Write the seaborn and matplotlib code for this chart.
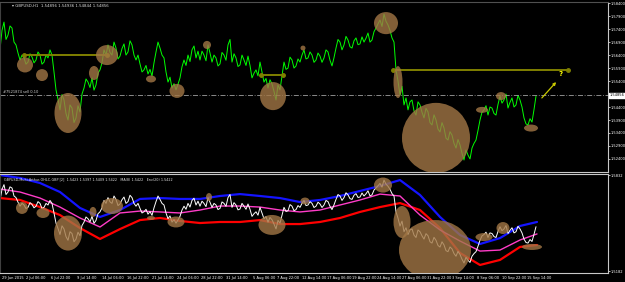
import numpy as np
import pandas as pd
import matplotlib
matplotlib.use("Agg")
import matplotlib.pyplot as plt
import seaborn as sns
from matplotlib.patches import Ellipse

# ---------------- data (hourly-ish closes, 2 px per step) ----------------
close = [1.5660, 1.5735, 1.5767, 1.5700, 1.5717, 1.5752, 1.5744, 1.5690, 1.5679, 1.5648,
         1.5621, 1.5640, 1.5629, 1.5605, 1.5613, 1.5645, 1.5633, 1.5610, 1.5621, 1.5652,
         1.5640, 1.5605, 1.5613, 1.5640, 1.5629, 1.5660, 1.5640, 1.5575, 1.5506, 1.5470,
         1.5429, 1.5488, 1.5467, 1.5415, 1.5390, 1.5448, 1.5436, 1.5380, 1.5398, 1.5445,
         1.5421, 1.5490, 1.5513, 1.5548, 1.5536, 1.5515, 1.5552, 1.5505, 1.5525, 1.5570,
         1.5583, 1.5610, 1.5660, 1.5640, 1.5679, 1.5650, 1.5640, 1.5690, 1.5667, 1.5625,
         1.5636, 1.5665, 1.5683, 1.5640, 1.5652, 1.5695, 1.5679, 1.5640, 1.5621, 1.5640,
         1.5606, 1.5575, 1.5583, 1.5600, 1.5567, 1.5585, 1.5559, 1.5610, 1.5652, 1.5690,
         1.5667, 1.5640, 1.5629, 1.5575, 1.5536, 1.5555, 1.5513, 1.5530, 1.5506, 1.5528,
         1.5552, 1.5595, 1.5621, 1.5600, 1.5640, 1.5615, 1.5660, 1.5675, 1.5629, 1.5655,
         1.5621, 1.5655, 1.5640, 1.5618, 1.5679, 1.5648, 1.5613, 1.5640, 1.5629, 1.5598,
         1.5606, 1.5650, 1.5640, 1.5620, 1.5679, 1.5700, 1.5613, 1.5645, 1.5629, 1.5596,
         1.5602, 1.5640, 1.5621, 1.5600, 1.5636, 1.5600, 1.5552, 1.5570, 1.5583, 1.5560,
         1.5613, 1.5575, 1.5536, 1.5550, 1.5513, 1.5545, 1.5529, 1.5500, 1.5467, 1.5525,
         1.5506, 1.5560, 1.5613, 1.5585, 1.5590, 1.5632, 1.5621, 1.5590, 1.5598, 1.5625,
         1.5613, 1.5640, 1.5660, 1.5625, 1.5629, 1.5652, 1.5640, 1.5612, 1.5621, 1.5648,
         1.5636, 1.5612, 1.5629, 1.5660, 1.5652, 1.5620, 1.5598, 1.5630, 1.5667, 1.5700,
         1.5690, 1.5660, 1.5679, 1.5712, 1.5698, 1.5672, 1.5667, 1.5695, 1.5706, 1.5680,
         1.5683, 1.5710, 1.5690, 1.5705, 1.5725, 1.5690, 1.5698, 1.5730, 1.5744, 1.5760,
         1.5775, 1.5750, 1.5798, 1.5770, 1.5756, 1.5735, 1.5706, 1.5690, 1.5583, 1.5540,
         1.5486, 1.5520, 1.5448, 1.5475, 1.5429, 1.5460, 1.5467, 1.5425, 1.5409, 1.5460,
         1.5448, 1.5420, 1.5398, 1.5435, 1.5421, 1.5380, 1.5371, 1.5410, 1.5390, 1.5355,
         1.5344, 1.5380, 1.5359, 1.5320, 1.5313, 1.5345, 1.5332, 1.5300, 1.5282, 1.5315,
         1.5294, 1.5262, 1.5236, 1.5275, 1.5255, 1.5240, 1.5282, 1.5300, 1.5313, 1.5350,
         1.5390, 1.5420, 1.5429, 1.5445, 1.5409, 1.5440, 1.5436, 1.5415, 1.5409, 1.5450,
         1.5482, 1.5455, 1.5467, 1.5490, 1.5436, 1.5458, 1.5475, 1.5440, 1.5448, 1.5485,
         1.5467, 1.5440, 1.5398, 1.5375, 1.5371, 1.5395, 1.5382, 1.5430, 1.5482]

band_bars = [0, 10, 20, 30, 40, 50, 60, 70, 80, 90, 100, 110, 120, 130, 140, 150, 160, 170, 180,
             190, 200, 210, 220, 230, 240, 250, 260, 268.5]
env_upper = [1.5832, 1.5812, 1.5778, 1.5717, 1.5609, 1.5548, 1.5595, 1.5670, 1.5676, 1.5670,
             1.5670, 1.5690, 1.5703, 1.5690, 1.5676, 1.5649, 1.5663, 1.5690, 1.5724, 1.5758,
             1.5798, 1.5697, 1.5548, 1.5426, 1.5365, 1.5405, 1.5487, 1.5514]
ma_mid = [1.5737, 1.5717, 1.5676, 1.5615, 1.5541, 1.5480, 1.5575, 1.5588, 1.5582, 1.5575,
          1.5595, 1.5622, 1.5622, 1.5615, 1.5595, 1.5582, 1.5595, 1.5629, 1.5663, 1.5703,
          1.5690, 1.5561, 1.5460, 1.5385, 1.5317, 1.5324, 1.5392, 1.5433]
env_lower = [1.5676, 1.5663, 1.5615, 1.5561, 1.5473, 1.5399, 1.5466, 1.5527, 1.5541, 1.5521,
             1.5507, 1.5514, 1.5514, 1.5527, 1.5500, 1.5500, 1.5514, 1.5541, 1.5582, 1.5615,
             1.5642, 1.5595, 1.5473, 1.5304, 1.5223, 1.5257, 1.5345, 1.5358]

price_ticks = [1.5840, 1.5790, 1.5740, 1.5690, 1.5640, 1.5590, 1.5540,
               1.5440, 1.5390, 1.5340, 1.5290, 1.5240]
time_labels = ["29 Jun 2015", "2 Jul 06:00", "6 Jul 22:00", "9 Jul 14:00", "14 Jul 06:00",
               "16 Jul 22:00", "21 Jul 14:00", "24 Jul 06:00", "28 Jul 22:00", "31 Jul 14:00",
               "5 Aug 06:00", "7 Aug 22:00", "12 Aug 14:00", "17 Aug 06:00", "19 Aug 22:00",
               "24 Aug 14:00", "27 Aug 06:00", "31 Aug 22:00", "3 Sep 14:00", "8 Sep 06:00",
               "10 Sep 22:00", "15 Sep 14:00"]
time_bars = [1, 13, 25.5, 38.5, 51, 63.5, 76, 88.5, 100.5, 113, 126.5, 138.5,
             151, 163.5, 176, 188.5, 201, 213.5, 226, 238.5, 251, 263.5]

# ovals: (bar, price, width in bars, height in price)
main_ovals = [(12.5, 1.5602, 8.0, 0.0058), (21.0, 1.5563, 6.0, 0.0046), (34.0, 1.5417, 13.5, 0.0154),
              (47.0, 1.5571, 5.0, 0.0054), (53.5, 1.5640, 11.0, 0.0077), (75.5, 1.5548, 5.0, 0.0027),
              (88.5, 1.5502, 7.5, 0.0054), (103.5, 1.5679, 4.0, 0.0031), (136.5, 1.5482, 13.0, 0.0108),
              (151.5, 1.5667, 2.5, 0.0019), (193.0, 1.5763, 12.0, 0.0085), (199.0, 1.5536, 4.5, 0.0123),
              (218.0, 1.5321, 34.0, 0.0270), (241.0, 1.5429, 6.0, 0.0023), (250.5, 1.5482, 5.0, 0.0031),
              (265.5, 1.5359, 7.0, 0.0027)]
sub_ovals = [(11.0, 1.5609, 6.0, 0.0081), (21.5, 1.5575, 6.5, 0.0068), (34.0, 1.5439, 14.0, 0.0237),
             (46.5, 1.5582, 3.5, 0.0068), (56.0, 1.5622, 11.0, 0.0108), (75.5, 1.5541, 4.0, 0.0027),
             (88.0, 1.5514, 8.5, 0.0074), (104.5, 1.5683, 3.0, 0.0054), (136.0, 1.5494, 13.5, 0.0135),
             (152.5, 1.5656, 4.5, 0.0047), (191.5, 1.5764, 9.0, 0.0102), (201.0, 1.5514, 8.5, 0.0217),
             (217.5, 1.5324, 36.0, 0.0406), (242.0, 1.5412, 8.5, 0.0054), (251.5, 1.5473, 6.5, 0.0081),
             (266.0, 1.5345, 10.0, 0.0041)]

levels = [(12.0, 53.5, 1.5640), (130.5, 141.5, 1.5563), (196.5, 284.0, 1.5583)]
order_price = 1.5486
last_price = "1.54856"

# ---------------- figure ----------------
sns.set_style("dark")
plt.rcParams['font.family'] = ['DejaVu Sans']
W, H = 625, 282
fig = plt.figure(figsize=(W / 100, H / 100), dpi=100, facecolor="black")

def ax_at(x0, y0, x1, y1):
    return fig.add_axes([x0 / W, 1 - y1 / H, (x1 - x0) / W, (y1 - y0) / H])

ax = ax_at(0, 2, 608, 172)
ax2 = ax_at(0, 174, 608, 273)

df = pd.DataFrame({"bar": np.arange(len(close)), "close": close})
bands = pd.DataFrame({"bar": band_bars, "upper": env_upper, "mid": ma_mid, "lower": env_lower})

for a in (ax, ax2):
    a.set_facecolor("black")
    a.set_xlim(0, 304)
    for s in a.spines.values():
        s.set_color("#c8c8c8")
        s.set_linewidth(0.8)
    a.spines["left"].set_color("#404040")
    a.grid(False)
    a.yaxis.tick_right()
    a.tick_params(axis="y", colors="#ffffff", labelsize=2.6, length=1.5, width=0.5, pad=0.6)

ax.spines["top"].set_color("#505050")

# main chart
sns.lineplot(data=df, x="bar", y="close", ax=ax, color="#00ff00", linewidth=0.7)
ax.set_ylim(1.51898, 1.58443)
ax.set_yticks(price_ticks)
ax.set_yticklabels([f"{t:.5f}" for t in price_ticks])
ax.set_xticks([])
ax.set_xlabel("")
ax.set_ylabel("")

ax.axhline(order_price, color="#a0a0a0", linewidth=0.6, linestyle=(0, (6, 2, 1, 2)))
ax.text(1.5, order_price + 0.0004, "#7521874 sell 0.10", color="#d0d0d0", fontsize=2.6, va="bottom")
ax.text(1.003, order_price, last_price, transform=ax.get_yaxis_transform(), fontsize=2.6,
        color="black", va="center", ha="left",
        bbox=dict(boxstyle="square,pad=0.15", fc="white", ec="white"))

for x0, x1, y in levels:
    ax.plot([x0, x1], [y, y], color="#808000", linewidth=1.4, solid_capstyle="butt")
    ax.plot([x0, x1], [y, y], "o", color="#808000", markersize=2.5)
ax.annotate("", xy=(279.0, 1.5544), xytext=(270.0, 1.5467),
            arrowprops=dict(arrowstyle="-|>", color="#c8c800", lw=0.9, mutation_scale=4))
ax.text(280.5, 1.5567, "?", color="#ffff00", fontsize=5, fontweight="bold", ha="center", va="center")

for (bx, py, w, h) in main_ovals:
    ax.add_patch(Ellipse((bx, py), w, h, facecolor="#a27745", edgecolor="none", alpha=0.8, zorder=5))

ax.text(6, 1.5828, "\u25be GBPUSD,H1  1.54896 1.54936 1.54844 1.54856", color="#e0e0e0",
        fontsize=2.8, va="center")

# sub chart
sns.lineplot(data=bands, x="bar", y="upper", ax=ax2, color="#1414ff", linewidth=1.6)
sns.lineplot(data=bands, x="bar", y="lower", ax=ax2, color="#ff0000", linewidth=1.6)
sns.lineplot(data=bands, x="bar", y="mid", ax=ax2, color="#ff3cc8", linewidth=1.0)
sns.lineplot(data=df, x="bar", y="close", ax=ax2, color="#ffffff", linewidth=0.7)
ax2.set_ylim(1.51685, 1.5839)
ax2.set_yticks([1.5832, 1.5182])
ax2.set_yticklabels(["1.5832", "1.5182"])
ax2.set_xticks(time_bars)
ax2.set_xticklabels(time_labels, ha="left")
ax2.tick_params(axis="x", colors="#ffffff", labelsize=2.6, length=1.5, width=0.5, pad=0.8)
ax2.set_xlabel("")
ax2.set_ylabel("")

for (bx, py, w, h) in sub_ovals:
    ax2.add_patch(Ellipse((bx, py), w, h, facecolor="#a27745", edgecolor="none", alpha=0.8, zorder=5))

ax2.text(2, 1.5800, "GBPUSD,Multi-Arthur-OHLC-GBP [2]  1.5423 1.5397 1.5409 1.5422   MA(8) 1.5422   Env(20) 1.5422",
         color="#e0e0e0", fontsize=2.4, va="center")

fig.savefig("out.png", dpi=100, facecolor="black")
